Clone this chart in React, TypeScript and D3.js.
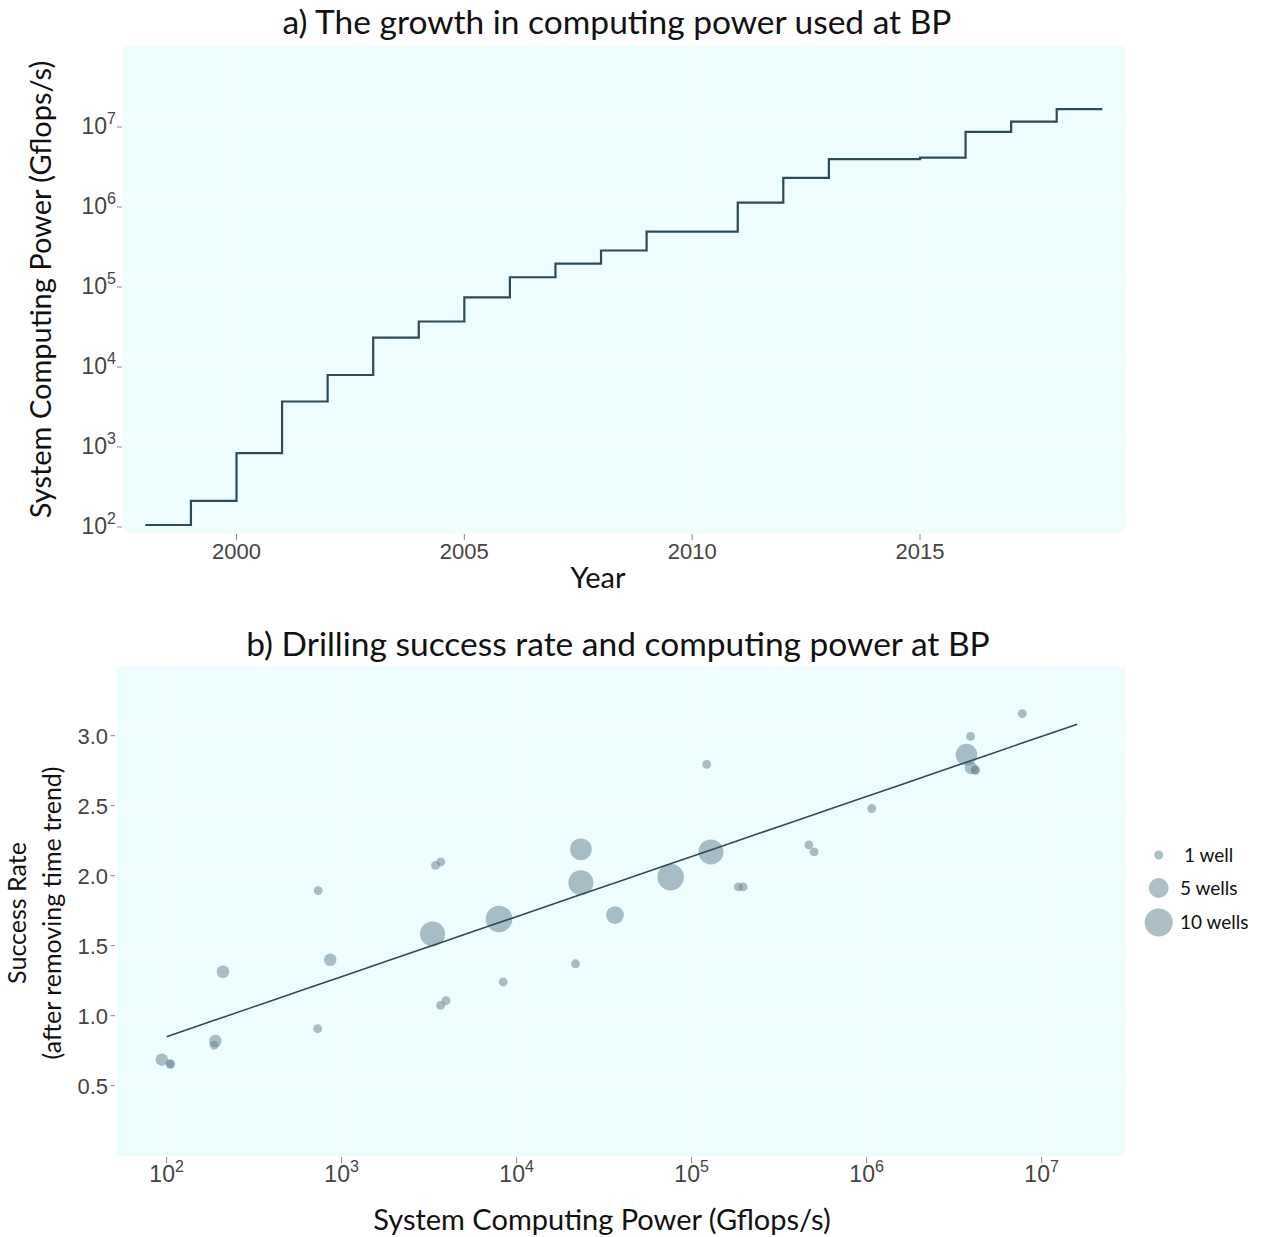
import React from "react";
import * as d3 from "d3";

// ---- Panel a data ----
const years = [1998, 1999, 2000, 2001, 2002, 2003, 2004, 2005, 2006, 2007, 2008, 2009, 2010, 2011, 2012, 2013, 2014, 2015, 2016, 2017, 2018, 2019];
const gflops = [100, 200, 790, 3500, 7500, 22000, 35000, 70000, 125000, 185000, 270000, 465000, 465000, 1.07e6, 2.18e6, 3.75e6, 3.75e6, 3.9e6, 8.2e6, 1.1e7, 1.58e7, 1.58e7];
const yearTicks = [2000, 2005, 2010, 2015];
const powTicksA = [2, 3, 4, 5, 6, 7];

// ---- Panel b data ----
const ptPower = [94, 105, 105, 190, 187, 210, 735, 730, 861, 3440, 3690, 3310, 3680, 3950, 7940, 8380, 23300, 23300, 21700, 36500, 75900, 129000, 122000, 185000, 197000, 468000, 501000, 1.07e6, 3.72e6, 3.93e6, 3.95e6, 4.18e6, 4.18e6, 7.76e6];
const ptRate = [0.686, 0.655, 0.655, 0.819, 0.789, 1.314, 1.893, 0.907, 1.40, 2.074, 2.098, 1.584, 1.074, 1.107, 1.691, 1.241, 2.189, 1.95, 1.371, 1.719, 1.99, 2.17, 2.795, 1.92, 1.92, 2.22, 2.17, 2.48, 2.865, 2.995, 2.77, 2.755, 2.755, 3.158];
const ptWells = [2, 1, 1, 2, 1, 2, 1, 1, 2, 1, 1, 8, 1, 1, 9, 1, 6, 8, 1, 4, 9, 8, 1, 1, 1, 1, 1, 1, 6, 1, 2, 1, 1, 1];
const fitIntercept = 0.85; // value at 10^2
const fitSlope = 0.429; // per decade
const fitRange = [100, 1.6e7];
const rateTicks = [0.5, 1.0, 1.5, 2.0, 2.5, 3.0];
const powTicksB = [2, 3, 4, 5, 6, 7];
const legendWells = [1, 5, 10];
const legendLabels = ["1 well", "5 wells", "10 wells"];

const BG = "#eefdfe";
const LINE = "#2b4b58";
const PT = "rgb(108,136,150)";
const TICKFONT = "'Liberation Sans', Arial, sans-serif";
const TITLEFONT = "Lato, 'Open Sans', sans-serif";

export default function App() {
  // panel a
  const aL = 123, aR = 1125, aT = 46, aB = 533;
  const xA = d3.scaleLinear().domain([2000, 2015]).range([236.5, 920]);
  const yA = d3.scaleLog().domain([100, 1e7]).range([525, 125]);
  const stepLine = d3
    .line<number>()
    .x((_, i) => xA(years[i]))
    .y((d) => yA(d))
    .curve(d3.curveStepAfter);

  // panel b
  const bL = 116.7, bR = 1125, bT = 666, bB = 1156;
  const xB = d3.scaleLog().domain([100, 1e7]).range([166.6, 1041.6]);
  const yB = d3.scaleLinear().domain([0.5, 3.0]).range([1085.7, 735.7]);
  const rScale = d3.scaleSqrt().domain([0, 10]).range([0, 14]);
  const fitLine = d3
    .line<number>()
    .x((d) => xB(d))
    .y((d) => yB(fitIntercept + fitSlope * (Math.log10(d) - 2)));

  const pts = ptPower.map((p, i) => ({ p, r: ptRate[i], w: ptWells[i] }));
  const lf0 = Math.log10(fitRange[0]);
  const lf1 = Math.log10(fitRange[1]);
  const fitXs = d3.range(0, 21).map((k) => Math.pow(10, lf0 + (k / 20) * (lf1 - lf0)));

  return (
    <svg width={1262} height={1237} style={{ position: "absolute", left: 0, top: 0, background: "#fff" }}>
      {/* ===== Panel a ===== */}
      <text x={617} y={34} textAnchor="middle" fontFamily={TITLEFONT} fontSize={33.5} fill="#111">
        a) The growth in computing power used at BP
      </text>
      <rect x={aL} y={aT} width={aR - aL} height={aB - aT} fill={BG} />
      {yearTicks.map((t) => (
        <line key={"ga" + t} x1={xA(t)} x2={xA(t)} y1={aT} y2={aB} stroke="#ffffff" strokeOpacity={0.5} strokeWidth={1} />
      ))}
      {powTicksA.map((p) => (
        <line key={"gya" + p} x1={aL} x2={aR} y1={yA(Math.pow(10, p))} y2={yA(Math.pow(10, p))} stroke="#ffffff" strokeOpacity={0.5} strokeWidth={1} />
      ))}
      <path d={stepLine(gflops) || ""} fill="none" stroke={LINE} strokeWidth={2.2} />
      {yearTicks.map((t) => (
        <g key={"xa" + t}>
          <text x={xA(t)} y={559} textAnchor="middle" fontFamily={TICKFONT} fontSize={22} fill="#444">
            {t}
          </text>
          <line x1={xA(t)} x2={xA(t)} y1={534} y2={540} stroke="#888" strokeWidth={1} />
        </g>
      ))}
      {powTicksA.map((p) => (
        <g key={"ya" + p}>
          <line x1={117} x2={122} y1={yA(Math.pow(10, p)) + 2} y2={yA(Math.pow(10, p)) + 2} stroke="#888" strokeWidth={1} />
          <text x={116} y={yA(Math.pow(10, p)) + 9} textAnchor="end" fontFamily={TICKFONT} fontSize={23} fill="#444">
            <tspan>10</tspan>
            <tspan dy={-10} fontSize={16}>{p}</tspan>
          </text>
        </g>
      ))}
      <text x={598} y={588} textAnchor="middle" fontFamily={TITLEFONT} fontSize={29} fill="#111">
        Year
      </text>
      <text
        transform={`translate(51, ${(aT + aB) / 2}) rotate(-90)`}
        textAnchor="middle"
        fontFamily={TITLEFONT}
        fontSize={29}
        fill="#111"
      >
        System Computing Power (Gflops/s)
      </text>

      {/* ===== Panel b ===== */}
      <text x={618} y={656} textAnchor="middle" fontFamily={TITLEFONT} fontSize={33.5} fill="#111">
        b) Drilling success rate and computing power at BP
      </text>
      <rect x={bL} y={bT} width={bR - bL} height={bB - bT} fill={BG} />
      {powTicksB.map((p) => (
        <line key={"gb" + p} x1={xB(Math.pow(10, p))} x2={xB(Math.pow(10, p))} y1={bT} y2={bB} stroke="#ffffff" strokeOpacity={0.5} strokeWidth={1} />
      ))}
      {rateTicks.map((t) => (
        <line key={"gyb" + t} x1={bL} x2={bR} y1={yB(t)} y2={yB(t)} stroke="#ffffff" strokeOpacity={0.5} strokeWidth={1} />
      ))}
      {pts
        .slice()
        .sort((a, b) => b.w - a.w)
        .map((d, i) => (
          <circle key={"pt" + i} cx={xB(d.p)} cy={yB(d.r)} r={rScale(d.w)} fill={PT} fillOpacity={0.55} />
        ))}
      <path d={fitLine(fitXs) || ""} fill="none" stroke={LINE} strokeWidth={1.6} />
      {rateTicks.map((t) => (
        <g key={"yb" + t}>
          <line x1={110.5} x2={115} y1={yB(t)} y2={yB(t)} stroke="#888" strokeWidth={1} />
          <text x={108} y={yB(t) + 8} textAnchor="end" fontFamily={TICKFONT} fontSize={22} fill="#444">
            {t.toFixed(1)}
          </text>
        </g>
      ))}
      {powTicksB.map((p) => (
        <g key={"xb" + p}>
          <text x={xB(Math.pow(10, p))} y={1182} textAnchor="middle" fontFamily={TICKFONT} fontSize={23} fill="#444">
            <tspan>10</tspan>
            <tspan dy={-10} fontSize={16}>{p}</tspan>
          </text>
          <line x1={xB(Math.pow(10, p))} x2={xB(Math.pow(10, p))} y1={1157} y2={1163} stroke="#888" strokeWidth={1} />
        </g>
      ))}
      <text x={602} y={1230} textAnchor="middle" fontFamily={TITLEFONT} fontSize={29} fill="#111">
        System Computing Power (Gflops/s)
      </text>
      <text transform={`translate(26, 913) rotate(-90)`} textAnchor="middle" fontFamily={TITLEFONT} fontSize={25} fill="#111">
        Success Rate
      </text>
      <text transform={`translate(61, 913) rotate(-90)`} textAnchor="middle" fontFamily={TITLEFONT} fontSize={25} fill="#111">
        (after removing time trend)
      </text>

      {/* legend */}
      {legendWells.map((w, i) => {
        const cy = [855, 888, 922.5][i];
        return (
          <g key={"lg" + w}>
            <circle cx={1158.7} cy={cy} r={rScale(w)} fill={PT} fillOpacity={0.55} />
            <text x={i === 0 ? 1184 : 1180} y={cy + 6.5} fontFamily={TITLEFONT} fontSize={19} fill="#111">
              {legendLabels[i]}
            </text>
          </g>
        );
      })}
    </svg>
  );
}
